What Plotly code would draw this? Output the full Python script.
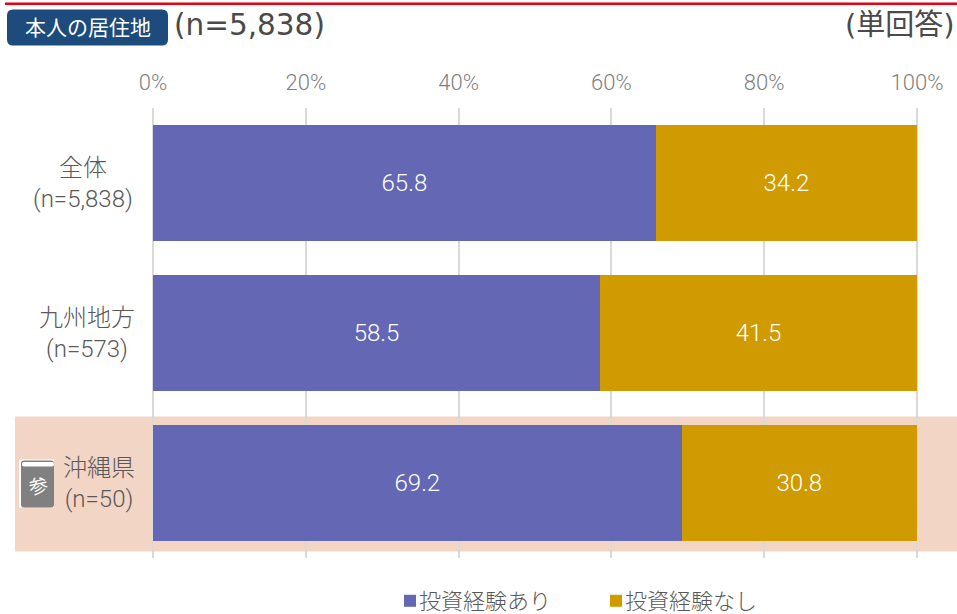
import plotly.graph_objects as go

categories = ["全体", "九州地方", "沖縄県"]
category_labels = ["全体<br>(n=5,838)", "九州地方<br>(n=573)", "沖縄県<br>(n=50)"]
series_yes = [65.8, 58.5, 69.2]
series_no = [34.2, 41.5, 30.8]
series_names = ["投資経験あり", "投資経験なし"]
tick_values = [0, 20, 40, 60, 80, 100]
tick_labels = ["0%", "20%", "40%", "60%", "80%", "100%"]

W, H = 957, 614
X0, X100 = 153, 917          # pixel positions of 0% and 100%
EDGE = 2                     # keeps the 0% and 100% gridlines from being clipped
L, R, T, B = X0 - EDGE, X100 + EDGE, 107.5, 557.5
BOTTOM = 579.5               # paper bottom once the legend has reserved its room
PAD = EDGE * 100 / (X100 - X0)
FONT = "Roboto, Noto Sans CJK JP"
GREY = "#595959"


def px(x):
    return (x - L) / (R - L)


def py(y):
    return (BOTTOM - y) / (BOTTOM - T)


def rect(x0, y0, x1, y1, color, layer="below"):
    return dict(type="rect", xref="paper", yref="paper", x0=px(x0), x1=px(x1),
                y0=py(y0), y1=py(y1), fillcolor=color, line_width=0, layer=layer)


def round_rect(x0, y0, x1, y1, r, color, layer="above"):
    pts = [
        f"M{px(x0 + r)},{py(y0)}", f"L{px(x1 - r)},{py(y0)}",
        f"Q{px(x1)},{py(y0)} {px(x1)},{py(y0 + r)}", f"L{px(x1)},{py(y1 - r)}",
        f"Q{px(x1)},{py(y1)} {px(x1 - r)},{py(y1)}", f"L{px(x0 + r)},{py(y1)}",
        f"Q{px(x0)},{py(y1)} {px(x0)},{py(y1 - r)}", f"L{px(x0)},{py(y0 + r)}",
        f"Q{px(x0)},{py(y0)} {px(x0 + r)},{py(y0)}", "Z",
    ]
    return dict(type="path", xref="paper", yref="paper", path=" ".join(pts),
                fillcolor=color, line_width=0, layer=layer)


fig = go.Figure()
for name, vals, color in [(series_names[0], series_yes, "#6367B4"),
                          (series_names[1], series_no, "#D09B00")]:
    fig.add_bar(
        name=name, y=categories, x=vals, orientation="h", marker_color=color,
        marker_line_width=0, text=[f"{v:.1f}" for v in vals], textposition="inside",
        insidetextanchor="middle", textangle=0,
        textfont=dict(family=FONT, size=24, color="white", weight=300), hoverinfo="skip",
    )

shapes = [
    rect(15, 416, 957, 551, "#F2D5C5"),
    rect(5, 2, 957, 4.5, "#E60012", "above"),
    round_rect(7, 9, 168, 45, 6, "#1C4B7C"),
    rect(19, 459, 54, 507, "#FFFFFF", "above"),
    round_rect(21, 460, 54, 507, 3, "#808080"),
    round_rect(22, 461.5, 54, 466, 2, "#FFFFFF"),
]


def note(x, y, text, size, color=GREY, anchor="center", family=FONT, **kw):
    return dict(xref="paper", yref="paper", x=px(x), y=py(y), text=text, showarrow=False,
                xanchor=anchor, yanchor="middle", align="center",
                font=dict(family=family, size=size, color=color), **kw)


HEAD = "DejaVu Sans, Noto Sans CJK JP"
annotations = [
    note(88, 27.5, "本人の居住地", 21, "white"),
    note(172, 25, "(n=5,838)", 29.5, "#4A4A4A", "left", HEAD),
    note(957, 25, "(単回答)", 29, "#4A4A4A", "right", HEAD),
    note(38, 486, "参", 19, "white", textangle=-12),
]
for cat, lab, cx in zip(categories, category_labels, [83, 87, 99]):
    annotations.append(dict(xref="paper", yref="y", x=px(cx), y=cat, text=lab, showarrow=False,
                            xanchor="center", yanchor="middle", align="center",
                            font=dict(family=FONT, size=24, color=GREY, weight=300)))

fig.update_layout(
    width=W, height=H, autosize=False,
    margin=dict(l=L, r=W - R, t=T, b=1, pad=0),
    barmode="stack", bargap=0.233,
    paper_bgcolor="white", plot_bgcolor="rgba(0,0,0,0)",
    font=dict(family=FONT, color=GREY),
    shapes=shapes, annotations=annotations,
    legend=dict(orientation="h", xref="container", yref="container", x=390 / W, y=(H - 601) / H,
                xanchor="left", yanchor="middle",
                font=dict(family=FONT, size=22, color=GREY, weight=300), itemwidth=30,
                entrywidth=161, entrywidthmode="pixels", bgcolor="rgba(0,0,0,0)",
                traceorder="normal"),
    xaxis=dict(side="top", range=[-PAD, 100 + PAD], tickvals=tick_values, ticktext=tick_labels,
               showgrid=True, gridcolor="#D9D9D9", gridwidth=2, zeroline=False,
               showline=False, ticks="", tickfont=dict(family=FONT, size=22, color="#7F7F7F", weight=300),
               ticklabelstandoff=13),
    yaxis=dict(autorange="reversed", showticklabels=False, showgrid=False, zeroline=False,
               showline=False, ticks="", domain=[py(B), 1]),
)

fig.write_html("out.html", config={"displayModeBar": False},
               post_script="document.body.style.margin='0';document.body.style.overflow='hidden';"
                           "document.querySelectorAll('.legendtext').forEach(function(t){"
                           "t.setAttribute('x', Number(t.getAttribute('x')) - 11);});")
